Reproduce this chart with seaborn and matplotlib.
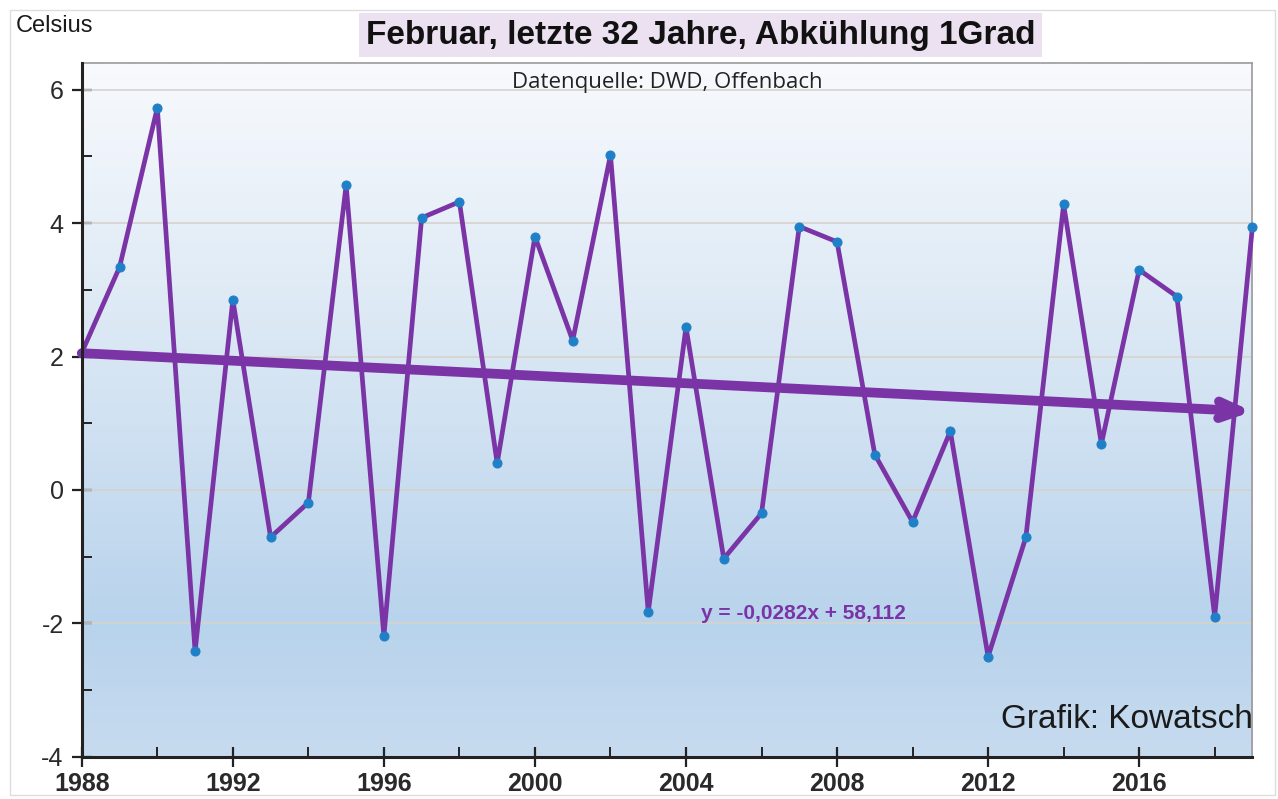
import numpy as np
import matplotlib
matplotlib.use("Agg")
import matplotlib.pyplot as plt
from matplotlib.colors import LinearSegmentedColormap
from matplotlib.ticker import MultipleLocator
import seaborn as sns

# Februar-Mittel Deutschland, 1988-2019
years = list(range(1988, 2020))
temps = [2.06, 3.34, 5.73, -2.42, 2.85, -0.71, -0.19, 4.57, -2.19, 4.08,
         4.32, 0.40, 3.80, 2.24, 5.02, -1.83, 2.44, -1.03, -0.35, 3.95,
         3.72, 0.53, -0.48, 0.88, -2.50, -0.71, 4.28, 0.69, 3.30, 2.90,
         -1.90, 3.95]

# lineare Trendlinie laut Grafik
slope = -0.0282
intercept = 58.112

purple = "#7a34a6"
blue = "#1f80c8"

sns.set_style("white")
plt.rcParams["font.family"] = ["Liberation Sans", "DejaVu Sans"]
plt.rcParams["axes.unicode_minus"] = False

fig = plt.figure(figsize=(12.78, 7.99), dpi=100)
ax = fig.add_axes([0.064, 0.053, 0.916, 0.868])

# Hintergrundverlauf
cmap = LinearSegmentedColormap.from_list(
    "bg", [(0.0, "#c7dbef"), (0.19, "#b8d3ec"), (0.55, "#d6e5f3"), (1.0, "#f8fafd")])
grad = np.linspace(0, 1, 256).reshape(-1, 1)
ax.imshow(grad, aspect="auto", cmap=cmap, origin="lower",
          extent=[0, 1, 0, 1], transform=ax.transAxes, zorder=0)

ax.set_xlim(1988, 2019)
ax.set_ylim(-4, 6.4)

for yv in [-2, 0, 2, 4, 6]:
    ax.axhline(yv, color="#d8d2cc", lw=1.2, zorder=1)

sns.lineplot(x=years, y=temps, ax=ax, color=purple, lw=3.4, marker="o",
             markersize=6.5, markerfacecolor=blue, markeredgecolor=blue,
             zorder=3, clip_on=False)

# Trend als dicker Pfeil
x0, x1 = years[0], years[-1]
ax.annotate("", xy=(x1, slope * x1 + intercept), xytext=(x0, slope * x0 + intercept),
            arrowprops=dict(arrowstyle="->,head_length=1.5,head_width=0.6",
                            color=purple, lw=7, shrinkA=0, shrinkB=0),
            zorder=4)

ax.text(2004.4, -1.85, "y = -0,0282x + 58,112", color=purple, fontsize=15,
        fontweight="bold", ha="left", va="center", zorder=5)
ax.text(2019, -3.45, "Grafik: Kowatsch", fontsize=24, color="#1a1a1a",
        ha="right", va="center", zorder=5)
ax.text(0.5, 0.972, "Datenquelle: DWD, Offenbach", transform=ax.transAxes,
        fontsize=16, family="Open Sans", color="#222222", ha="center", va="center",
        zorder=5)

# Achsen
ax.xaxis.set_major_locator(MultipleLocator(4))
ax.xaxis.set_minor_locator(MultipleLocator(2))
ax.yaxis.set_major_locator(MultipleLocator(2))
ax.yaxis.set_minor_locator(MultipleLocator(1))
ax.tick_params(axis="both", which="both", bottom=True, left=True)
ax.tick_params(axis="both", which="major", direction="inout", length=14,
               width=1.6, color="#222222")
ax.tick_params(axis="both", which="minor", direction="in", length=7,
               width=1.4, color="#222222")
ax.tick_params(axis="x", labelsize=18, pad=4, labelcolor="#2a2a2a")
ax.tick_params(axis="y", labelsize=18, pad=6, labelcolor="#2a2a2a")
for lab in ax.get_xticklabels():
    lab.set_fontweight("bold")

for side in ["left", "bottom"]:
    ax.spines[side].set_color("#222222")
    ax.spines[side].set_linewidth(2.2)
for side in ["top", "right"]:
    ax.spines[side].set_color("#9a9a9a")
    ax.spines[side].set_linewidth(1.2)
ax.spines["left"].set_zorder(6)
ax.spines["bottom"].set_zorder(6)

fig.text(0.012, 0.968, "Celsius", fontsize=17, color="#1a1a1a", ha="left", va="center")
fig.text(0.548, 0.956, "Februar, letzte 32 Jahre, Abkühlung 1Grad", fontsize=24,
         fontweight="bold", color="#111111", ha="center", va="center",
         bbox=dict(boxstyle="square,pad=0.2", facecolor="#ece1f1", edgecolor="none"))

# dünner Rahmen um die Grafik
fig.patches.append(plt.Rectangle((0.008, 0.005), 0.99, 0.983, transform=fig.transFigure,
                                 fill=False, edgecolor="#dddddd", lw=1))

fig.savefig("out.png", dpi=100)
